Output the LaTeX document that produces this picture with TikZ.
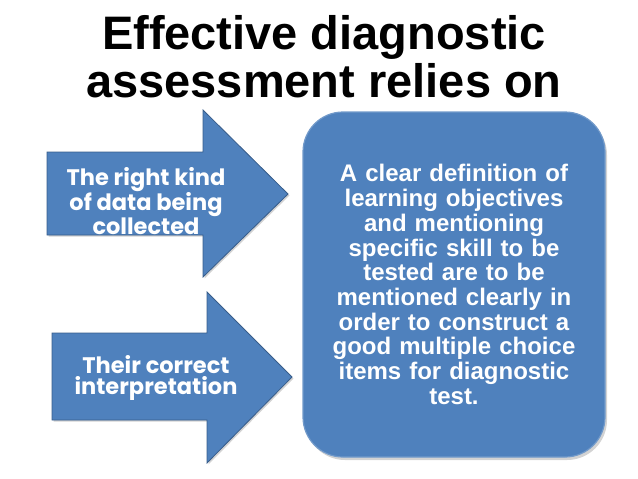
\documentclass[tikz,border=0pt]{standalone}
\usepackage{fontspec}
\setmainfont{Liberation Sans}
\newfontfamily\arrowfont{Poppins}
\usetikzlibrary{positioning,shadows}

\definecolor{boxblue}{HTML}{4F81BD}
\definecolor{edgeblue}{HTML}{385D8A}

\begin{document}
\begin{tikzpicture}[
  x=1pt, y=-1pt,
  arrowshape/.style={fill=boxblue, draw=edgeblue, line width=0.8pt, line join=miter,
    drop shadow={shadow xshift=1.5pt, shadow yshift=-1.5pt, opacity=0.35}},
  arrowtext/.style={align=center, text=white, inner sep=0pt,
    font=\arrowfont\bfseries\fontsize{22.5}{21.5}\selectfont},
  goalbox/.style={fill=boxblue, draw=boxblue!80!white, line width=1.2pt, rounded corners=40pt,
    minimum width=302pt, minimum height=345pt, align=center, text=white, text width=280pt,
    font=\bfseries\fontsize{24}{24.7}\selectfont,
    drop shadow={shadow xshift=2pt, shadow yshift=-3pt, opacity=0.35}},
  title/.style={align=center, font=\bfseries\fontsize{47}{48}\selectfont, inner sep=0pt}
]
\useasboundingbox (0,0) rectangle (638,479);

% heading
\node[title] (head) at (324,57) {Effective diagnostic\\assessment relies on};

% the two arrows
\draw[arrowshape] (47,152) -- (203,152) -- (203,110) -- (288,194) -- (203,277)
  -- (203,235) -- (47,235) -- cycle;
\draw[arrowshape] (52,333) -- (207,333) -- (207,292) -- (292,377) -- (207,463)
  -- (207,420) -- (52,420) -- cycle;
\node[arrowtext] (data) at (146,201) {The right kind\\of data being\\collected};
\node[arrowtext] (interp) at (156,378) {Their correct\\interpretation};

% right box
\node[goalbox] (goal) at (454,284.5) {A clear definition of\\learning objectives\\and mentioning\\specific skill to be\\tested are to be\\mentioned clearly in\\order to construct a\\good multiple choice\\items for diagnostic\\test.};
\end{tikzpicture}
\end{document}
